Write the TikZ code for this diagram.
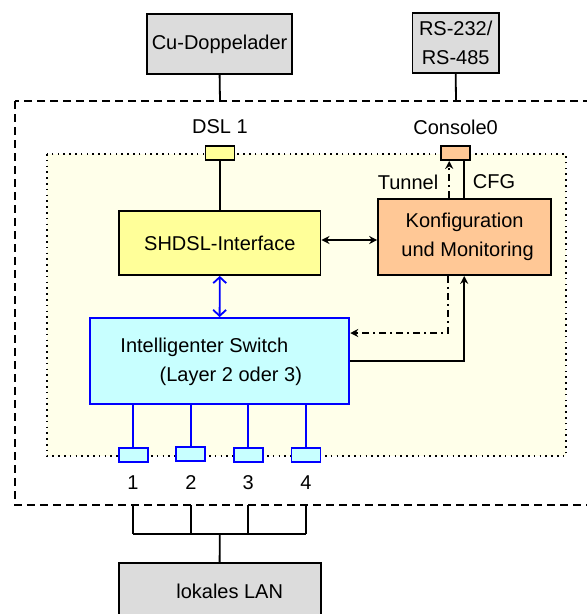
\documentclass[tikz,border=0pt]{standalone}
\usepackage{fontspec}
\setmainfont{Liberation Sans}
\usetikzlibrary{arrows.meta,calc}
\definecolor{boxgrey}{HTML}{DCDCDC}
\definecolor{dslyellow}{HTML}{FFFF99}
\definecolor{konforange}{HTML}{FFC896}
\definecolor{swcyan}{HTML}{C8FFFF}
\definecolor{innerbg}{HTML}{FFFFEA}
\begin{document}
\begin{tikzpicture}[x=1pt,y=-1pt,
  every node/.style={font=\fontsize{20}{29}\selectfont, inner sep=0pt},
  greybox/.style={draw=black, line width=1.8pt, fill=boxgrey, align=center},
  port/.style={draw=black, line width=1.8pt, minimum width=29pt, minimum height=14pt},
  bport/.style={draw=blue, line width=1.8pt, fill=swcyan, minimum width=29pt, minimum height=14pt},
  conn/.style={line width=1.8pt},
  bconn/.style={line width=1.8pt, draw=blue},
  arr/.style={-{Stealth[length=8pt,width=8pt]}},
  darr/.style={{Stealth[length=8pt,width=8pt]}-{Stealth[length=8pt,width=8pt]}},
  barr/.style={{Straight Barb[length=6pt,width=13pt,line width=1.8pt]}-{Straight Barb[length=6pt,width=13pt,line width=1.8pt]}},
  dd/.style={dash pattern=on 7pt off 4pt on 2pt off 4pt},
  lbl/.style={text=black}
]
\useasboundingbox (0,0) rectangle (587,614);
\clip (0,0) rectangle (587,614);

% outer dashed frame
\draw[line width=2pt, dash pattern=on 8pt off 5pt] (15,101) rectangle (640,505);
% inner dotted area
\draw[line width=1.6pt, fill=innerbg, dash pattern=on 1.6pt off 4.2pt] (47,154) rectangle (566,456);

% top external boxes
\node[greybox, minimum width=145pt, minimum height=60pt] (cu) at (219.6,44) {Cu-Doppelader};
\node[greybox, minimum width=86.5pt, minimum height=60pt] (rs) at (455.7,43) {RS-232/\\RS-485};
\coordinate (cuend) at (220,101);
\coordinate (rsend) at (456,101);

% ports
\node[port, fill=dslyellow] (dslport) at (220,153) {};
\node[port, fill=konforange] (conport) at (455.8,153) {};
\node[lbl] (dsllbl) at (220,127) {DSL 1};
\node[lbl] (conlbl) at (455.6,127) {Console0};

% main boxes
\node[draw=black, line width=1.8pt, fill=dslyellow, minimum width=201.5pt, minimum height=64pt] (shdsl) at (219.8,243) {SHDSL-Interface};
\node[draw=black, line width=1.8pt, fill=konforange, minimum width=173pt, minimum height=76pt, align=center] (konf) at (464.6,237) {Konfiguration\\\hspace*{6pt}und Monitoring};
\node[draw=blue, line width=1.8pt, fill=swcyan, minimum width=259.5pt, minimum height=86pt] (sw) at (219.6,361) {};
\node[lbl] (swt1) at (204.4,347) {Intelligenter Switch};
\node[lbl] (swt2) at (230.8,376) {(Layer 2 oder 3)};

% LAN ports
\node[bport] (p1) at (133.3,455) {};
\node[bport] (p2) at (190.6,454) {};
\node[bport] (p3) at (248.2,455) {};
\node[bport] (p4) at (306,455) {};
\node[lbl] (l1) at (133,483) {1};
\node[lbl] (l2) at (190.9,483) {2};
\node[lbl] (l3) at (248.2,483) {3};
\node[lbl] (l4) at (306,483) {4};

% LAN box
\node[greybox, minimum width=202pt, minimum height=56pt] (lan) at (219.6,591) {};
\node[lbl] (lant) at (229.7,591) {lokales LAN};

% labels near console
\node[lbl] (tun) at (408,182) {Tunnel};
\node[lbl] (cfg) at (494,182) {CFG};

% connectors top
\draw[conn] (cu.south) -- (cuend);
\draw[conn] (rs.south) -- (rsend);
\draw[conn] (dslport.south) -- (dslport.south |- shdsl.north);
\draw[conn, dd, arr] (konf.north -| 449.2,0) -- (conport.south -| 449.2,0);
\draw[conn] (konf.north -| 464.2,0) -- (conport.south -| 464.2,0);

% SHDSL <-> Konf
\draw[conn, darr] (shdsl.east |- 0,240) -- (konf.west |- 0,240);
% SHDSL <-> Switch
\draw[bconn, barr] (shdsl.south) -- (sw.north);

% Konf -> Switch (dash dotted), Switch -> Konf (solid)
\draw[conn, dd, arr] (konf.south -| 448.1,0) -- (448.1,333) -- (sw.east |- 0,333);
\draw[conn, arr] (sw.east |- 0,361) -- (464.2,361) -- (konf.south -| 464.2,0);

% switch to ports
\foreach \i in {1,2,3,4} {
  \draw[bconn] (sw.south -| p\i.north) -- (p\i.north);
}

% ports to LAN
\coordinate (j1) at (132.9,534);
\coordinate (j4) at (306.2,534);
\coordinate (jm) at (219.8,534);
\foreach \x in {132.9,190.9,248.2,306.2} {
  \draw[conn] (\x,505) -- (\x,534);
}
\draw[conn] (j1) -- (j4);
\draw[conn] (jm) -- (lan.north);
\end{tikzpicture}
\end{document}
